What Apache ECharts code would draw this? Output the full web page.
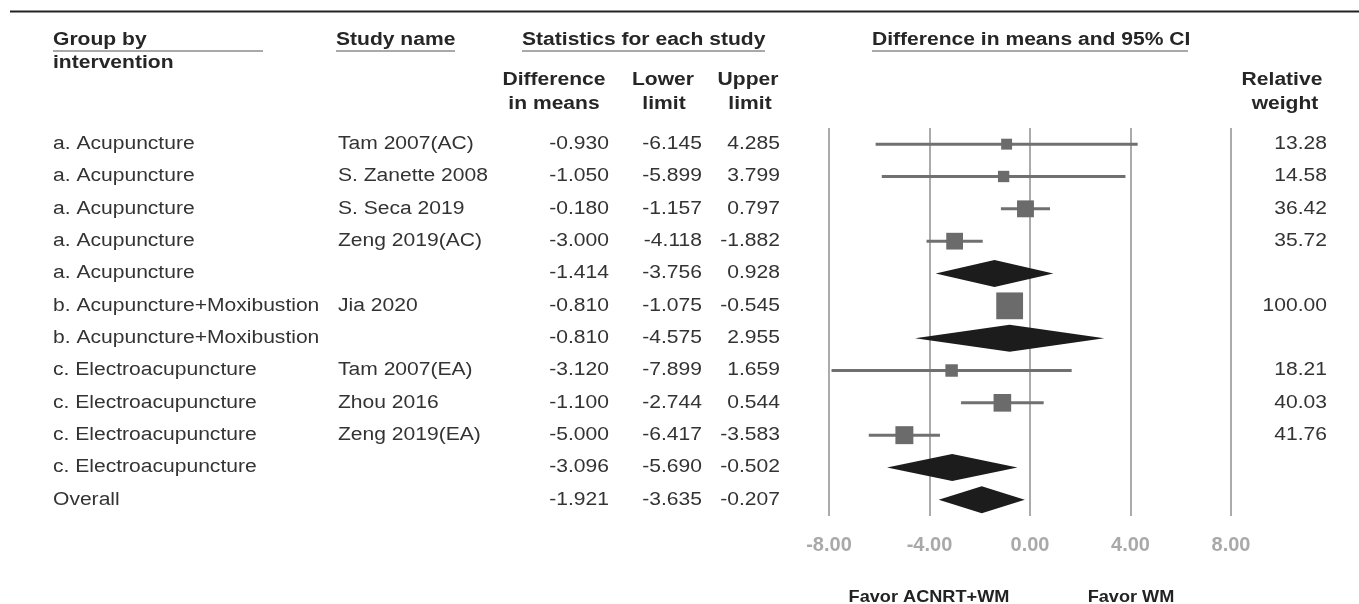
<!DOCTYPE html>
<html>
<head>
<meta charset="utf-8">
<script src="https://cdn.jsdelivr.net/npm/echarts@6/dist/echarts.min.js"></script>
<style>
  html, body { margin: 0; padding: 0; background: #fff; }
  #chart { width: 1359px; height: 604px; }
</style>
</head>
<body>
<div id="chart"></div>
<script>
const groups = [
  'a. Acupuncture', 'a. Acupuncture', 'a. Acupuncture', 'a. Acupuncture', 'a. Acupuncture',
  'b. Acupuncture+Moxibustion', 'b. Acupuncture+Moxibustion',
  'c. Electroacupuncture', 'c. Electroacupuncture', 'c. Electroacupuncture', 'c. Electroacupuncture',
  'Overall'
];
const studies = [
  'Tam 2007(AC)', 'S. Zanette 2008', 'S. Seca 2019', 'Zeng 2019(AC)', '',
  'Jia 2020', '',
  'Tam 2007(EA)', 'Zhou 2016', 'Zeng 2019(EA)', '',
  ''
];
const diffs = [-0.930, -1.050, -0.180, -3.000, -1.414, -0.810, -0.810, -3.120, -1.100, -5.000, -3.096, -1.921];
const lowers = [-6.145, -5.899, -1.157, -4.118, -3.756, -1.075, -4.575, -7.899, -2.744, -6.417, -5.690, -3.635];
const uppers = [4.285, 3.799, 0.797, -1.882, 0.928, -0.545, 2.955, 1.659, 0.544, -3.583, -0.502, -0.207];
const weights = [13.28, 14.58, 36.42, 35.72, null, 100.00, null, 18.21, 40.03, 41.76, null, null];
const xTicks = [-8, -4, 0, 4, 8];

const FONT = '"Liberation Sans", Arial, sans-serif';
const SX = 1.17; // scanned text is wider than plain Arial
const textColor = '#333';
const headColor = '#262626';

// column anchors (px)
const colGroup = 53, colStudy = 338, colDiff = 609, colLower = 702, colUpper = 780, colWeight = 1327;

function txt(x, y, text, opts) {
  opts = opts || {};
  return {
    type: 'text',
    x: x,
    y: y,
    scaleX: opts.sx || SX,
    silent: true,
    style: {
      text: text,
      font: (opts.bold ? 'bold ' : '') + (opts.size || 18) + 'px ' + FONT,
      fill: opts.color || textColor,
      align: opts.align || 'left',
      verticalAlign: 'middle'
    }
  };
}

function hline(x1, x2, y, w, color) {
  return {
    type: 'line',
    silent: true,
    shape: { x1: x1, y1: y, x2: x2, y2: y },
    style: { stroke: color || '#555', lineWidth: w || 1.2 }
  };
}

const rows = diffs.map((d, i) => [d, i, lowers[i], uppers[i]]);

const chart = echarts.init(document.getElementById('chart'));

const option = {
  animation: false,
  backgroundColor: '#fff',
  grid: { left: 829, right: 128, top: 128, bottom: 88 },
  xAxis: {
    type: 'value',
    min: -8,
    max: 8,
    interval: 4,
    axisLine: { show: false },
    axisTick: { show: false },
    splitLine: { show: true, lineStyle: { color: '#ababab', width: 2 } },
    axisLabel: {
      margin: 19,
      color: '#a9a9a9',
      fontWeight: 'bold',
      fontSize: 20,
      fontFamily: FONT,
      formatter: v => xTicks.includes(v) ? v.toFixed(2) : ''
    }
  },
  yAxis: {
    type: 'category',
    inverse: true,
    data: groups.map((g, i) => i),
    show: false
  },
  graphic: [
    hline(10, 1359, 11.5, 2, '#222'),
    txt(colGroup, 40, 'Group by', { bold: true, color: headColor }),
    hline(53, 263, 51),
    txt(colGroup, 63, 'intervention', { bold: true, color: headColor }),
    txt(336, 40, 'Study name', { bold: true, color: headColor }),
    hline(336, 455, 51),
    txt(522, 40, 'Statistics for each study', { bold: true, color: headColor }),
    hline(522, 765, 51),
    txt(872, 40, 'Difference in means and 95% CI', { bold: true, color: headColor }),
    hline(872, 1188, 51),
    txt(554, 80, 'Difference', { bold: true, color: headColor, align: 'center' }),
    txt(554, 104, 'in means', { bold: true, color: headColor, align: 'center' }),
    txt(663, 80, 'Lower', { bold: true, color: headColor, align: 'center' }),
    txt(664, 104, 'limit', { bold: true, color: headColor, align: 'center' }),
    txt(748, 80, 'Upper', { bold: true, color: headColor, align: 'center' }),
    txt(750, 104, 'limit', { bold: true, color: headColor, align: 'center' }),
    txt(1282, 80, 'Relative', { bold: true, color: headColor, align: 'center' }),
    txt(1285, 104, 'weight', { bold: true, color: headColor, align: 'center' }),
    txt(929, 597, 'Favor ACNRT+WM', { bold: true, color: '#222', align: 'center', size: 16.5, sx: 1.1 }),
    txt(1131, 597, 'Favor WM', { bold: true, color: '#222', align: 'center', size: 16.5, sx: 1.1 })
  ],
  series: [{
    type: 'custom',
    clip: false,
    encode: { x: 0, y: 1 },
    data: rows,
    renderItem: function (params, api) {
      const i = api.value(1);
      const pm = api.coord([api.value(0), i]);
      const y = pm[1];
      const xl = api.coord([api.value(2), i])[0];
      const xu = api.coord([api.value(3), i])[0];
      const children = [];
      if (studies[i]) {
        const s = 1.8 + 2.5 * Math.sqrt(weights[i]);
        children.push({
          type: 'line',
          shape: { x1: xl, y1: y, x2: xu, y2: y },
          style: { stroke: '#707070', lineWidth: 3 }
        });
        children.push({
          type: 'rect',
          shape: { x: pm[0] - s / 2, y: y - s / 2, width: s, height: s },
          style: { fill: '#6b6b6b' }
        });
      } else {
        children.push({
          type: 'polygon',
          shape: { points: [[xl, y], [pm[0], y - 13.5], [xu, y], [pm[0], y + 13.5]] },
          style: { fill: '#1c1c1c' }
        });
      }
      children.push(txt(colGroup, y, groups[i]));
      if (studies[i]) children.push(txt(colStudy, y, studies[i]));
      children.push(txt(colDiff, y, diffs[i].toFixed(3), { align: 'right' }));
      children.push(txt(colLower, y, lowers[i].toFixed(3), { align: 'right' }));
      children.push(txt(colUpper, y, uppers[i].toFixed(3), { align: 'right' }));
      if (weights[i] != null) children.push(txt(colWeight, y, weights[i].toFixed(2), { align: 'right' }));
      return { type: 'group', children: children };
    }
  }]
};

chart.setOption(option);
</script>
</body>
</html>
